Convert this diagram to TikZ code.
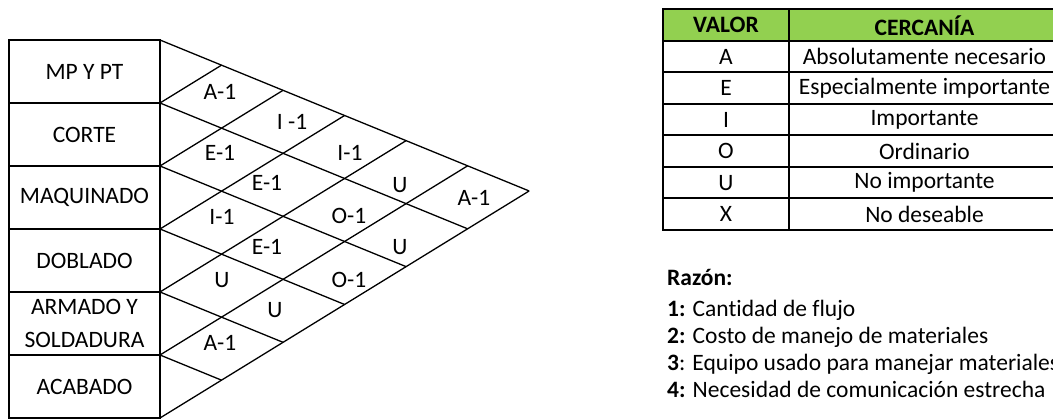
\documentclass[tikz,border=0pt]{standalone}
\usepackage{fontspec}
\setmainfont{Carlito}[Ligatures=NoCommon]
\definecolor{hdrgreen}{HTML}{92D050}
\begin{document}
\begin{tikzpicture}[x=1pt,y=-1pt,
  every node/.style={font=\fontsize{23.5}{28}\selectfont, inner sep=0pt},
  dept/.style={draw, line width=2.2pt, minimum width=151pt, minimum height=63pt, align=center, font=\fontsize{23.5}{33}\selectfont},
  diag/.style={line width=1.3pt},
  rel/.style={anchor=center},
  cellA/.style={draw, line width=2pt, minimum width=126pt, minimum height=31.5pt},
  cellB/.style={draw, line width=2pt, minimum width=271pt, minimum height=31.5pt},
  hdr/.style={fill=hdrgreen, font=\bfseries\fontsize{23.5}{28}\selectfont},
  reason/.style={anchor=base west}
]
\useasboundingbox (0,0) rectangle (1053,419);

% diagonal grid
\foreach \k in {0,...,5} {
  \pgfmathsetmacro\yk{40+63*\k}
  \pgfmathsetmacro\dd{(418-\yk)/1.024}
  \coordinate (dl\k) at (160,\yk);
  \coordinate (de\k) at ({160+\dd},{\yk+0.409*\dd});
  \draw[diag] (dl\k) -- (de\k);
}
\foreach \m in {1,...,6} {
  \pgfmathsetmacro\ym{40+63*\m}
  \pgfmathsetmacro\dd{(\ym-40)/1.024}
  \coordinate (ul\m) at (160,\ym);
  \coordinate (ue\m) at ({160+\dd},{\ym-0.615*\dd});
  \draw[diag] (ul\m) -- (ue\m);
}

% departments
\node[dept] (d0) at (84.5,71.5) {MP Y PT};
\node[dept] (d1) at (84.5,134.5) {CORTE};
\node[dept] (d2) at (84.5,197.5) {MAQUINADO};
\node[dept] (d3) at (84.5,260.5) {DOBLADO};
\node[dept] (d4) at (84.5,323.5) {ARMADO Y\\SOLDADURA};
\node[dept] (d5) at (84.5,386.5) {ACABADO};

% relationship labels
\node[rel] (r01) at (220,92) {A-1};
\node[rel] (r12) at (220,153) {E-1};
\node[rel] (r23) at (222,217) {I-1};
\node[rel] (r34) at (222,280) {U};
\node[rel] (r45) at (220,343) {A-1};
\node[rel] (r02) at (292,122) {I -1};
\node[rel] (r13) at (267,183) {E-1};
\node[rel] (r24) at (267,247) {E-1};
\node[rel] (r35) at (275,310) {U};
\node[rel] (r03) at (350,153) {I-1};
\node[rel] (r14) at (349,216) {O-1};
\node[rel] (r25) at (349,280) {O-1};
\node[rel] (r04) at (400,185) {U};
\node[rel] (r15) at (400,247) {U};
\node[rel] (r05) at (474,198) {A-1};

% legend table
\node[cellA,hdr] (hv) at (726,25.25) {VALOR};
\node[cellB,hdr] (hc) at (924.5,25.25) {CERCANÍA};
\node[cellA] (v1) at (726,56.75) {A};
\node[cellB] (c1) at (924.5,56.75) {Absolutamente necesario};
\node[cellA] (v2) at (726,88.25) {E};
\node[cellB] (c2) at (924.5,88.25) {Especialmente importante};
\node[cellA] (v3) at (726,119.75) {I};
\node[cellB] (c3) at (924.5,119.75) {Importante};
\node[cellA] (v4) at (726,151.25) {O};
\node[cellB] (c4) at (924.5,151.25) {Ordinario};
\node[cellA] (v5) at (726,182.75) {U};
\node[cellB] (c5) at (924.5,182.75) {No importante};
\node[cellA] (v6) at (726,214.25) {X};
\node[cellB] (c6) at (924.5,214.25) {No deseable};

% reasons
\node[reason] (t0) at (667,286) {\textbf{Razón:}};
\node[reason] (t1) at (667,317) {\textbf{1:} Cantidad de flujo};
\node[reason] (t2) at (667,344) {\textbf{2:} Costo de manejo de materiales};
\node[reason] (t3) at (667,371) {\textbf{3}: Equipo usado para manejar materiales};
\node[reason] (t4) at (667,398) {\textbf{4:} Necesidad de comunicación estrecha};
\end{tikzpicture}
\end{document}
